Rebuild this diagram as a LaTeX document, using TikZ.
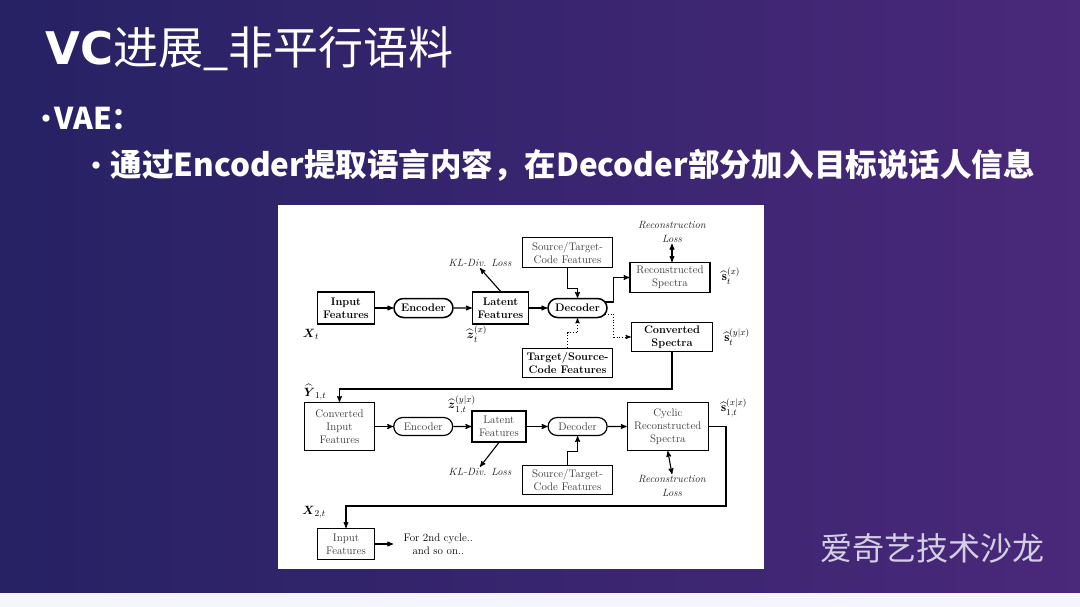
\documentclass[tikz,border=0pt]{standalone}
\usepackage{fontspec}
\usepackage{amsmath}
\usepackage{amssymb}
\usetikzlibrary{shapes}
\usetikzlibrary{arrows}
\usetikzlibrary{positioning}
\newfontfamily\cjk{Noto Sans CJK SC}
\newfontfamily\heavy{DejaVu Sans}
\definecolor{slideL}{RGB}{38,34,100}
\definecolor{slideR}{RGB}{74,40,122}
\definecolor{logogray}{RGB}{212,208,226}
\definecolor{txtgray}{RGB}{55,55,55}
\tikzset{
	diag_node/.style = {
		align=center,
		inner sep=1pt,
		text centered,
		font=\fontsize{11}{13}\selectfont
	},
	box_b/.style = {
		diag_node,
		rectangle,
		draw=black,
		line width=1.5pt,
		font=\fontsize{11}{13}\selectfont\bfseries
	},
	box_r/.style = {
		diag_node,
		rectangle,
		draw=black,
		text=txtgray,
		line width=1.2pt
	},
	pill_b/.style = {
		box_b,
		rounded rectangle,
		minimum width=61pt,
		minimum height=19pt
	},
	pill_r/.style = {
		box_r,
		rounded rectangle,
		minimum width=61pt,
		minimum height=18pt
	},
	txt_loss/.style = {
		diag_node,
		font=\fontsize{10.5}{13.5}\selectfont\itshape,
		text=black!85
	},
	lbl_math/.style = {
		inner sep=0pt,
		font=\fontsize{13}{15}\selectfont
	},
	slide_txt/.style = {
		anchor=base west,
		inner sep=0pt,
		text=white
	},
	slide_dot/.style = {
		inner sep=0pt,
		text=white,
		font=\cjk\fontsize{34}{36}\selectfont
	}
}
\begin{document}
\begin{tikzpicture}[x=1pt,y=-1pt,->,>=stealth',line width=1.1pt]
\useasboundingbox (0,0) rectangle (1080,607);
\fill[color=white!96!blue] (0,0) rectangle (1080,607);
\shade[left color=slideL, right color=slideR] (0,0) rectangle (1080,592);
\node[slide_txt, font=\cjk\fontsize{45}{52}\selectfont] (title) at (45,65) {{\heavy\bfseries VC}进展\_非平行语料};
\node[slide_dot] (bul1) at (47,123) {•};
\node[slide_txt, font=\cjk\fontsize{30}{36}\selectfont\bfseries] (vae) at (54,130) {VAE：};
\node[slide_dot] (bul2) at (96,170) {•};
\node[slide_txt, font=\cjk\fontsize{31.5}{38}\selectfont\bfseries] (point) at (110,177) {通过Encoder提取语言内容，在Decoder部分加入目标说话人信息};
\node[text=logogray, inner sep=0pt, font=\cjk\fontsize{32}{38}\selectfont] (logo) at (932,548) {爱奇艺技术沙龙};
\fill[white] (278,205) rectangle (764,569);
% first pass
\node[box_b, minimum width=57pt, minimum height=32pt] (in1) at (346,308) {Input\\Features};
\node[pill_b, right=18pt of in1] (enc1) {Encoder};
\node[box_b, minimum width=56pt, minimum height=32pt, right=18pt of enc1] (lat1) {Latent\\Features};
\node[pill_b, right=18pt of lat1] (dec1) {Decoder};
\node[box_r, minimum width=90pt, minimum height=30pt] (src1) at (567.5,252.5) {Source/Target-\\Code Features};
\node[box_r, minimum width=80pt, minimum height=30pt] (rec1) at (670,277.5) {Reconstructed\\Spectra};
\node[box_b, minimum width=81pt, minimum height=29pt] (cnv1) at (672,337) {Converted\\Spectra};
\node[box_b, minimum width=90pt, minimum height=29pt] (tgt1) at (567.5,363) {Target/Source-\\Code Features};
\node[txt_loss] (kl1) at (480,263) {KL-Div. Loss};
\node[txt_loss] (rl1) at (672,232) {Reconstruction\\Loss};
\node[lbl_math] (xt1) at (311,334) {$\boldsymbol{X}_t$};
\node[lbl_math] (zt1) at (477,334) {$\widehat{\boldsymbol{z}}_t^{(x)}$};
\node[lbl_math] (st1) at (731,276) {$\widehat{\mathbf{s}}_t^{(x)}$};
\node[lbl_math] (st2) at (737,337) {$\widehat{\mathbf{s}}_t^{(y|x)}$};
\coordinate (loop1) at (672,389);
\draw (in1) -- (enc1);
\draw (enc1) -- (lat1);
\draw (lat1) -- (dec1);
\draw (src1.south) -- ++(0,20) -| (dec1.north);
\draw ([xshift=-3pt,yshift=6pt]dec1.east) -- ++(9,0) |- (rec1.west);
\draw[dotted, line width=0.9pt] ([xshift=-3pt,yshift=-6pt]dec1.east) -- ++(9,0) |- (cnv1.west);
\draw[dotted, line width=0.9pt] (tgt1.north) -- ++(0,-15) -| (dec1.south);
\draw[<->] (rl1.south) -- (rl1.south |- rec1.north);
\draw (lat1.north) -- (kl1.south);
% second pass
\node[box_r, minimum width=70pt, minimum height=48pt] (cin2) at (339.5,426.5) {Converted\\Input\\Features};
\node[pill_r, right=18pt of cin2] (enc2) {Encoder};
\node[box_r, minimum width=54pt, minimum height=31pt, right=18pt of enc2] (lat2) {Latent\\Features};
\node[pill_r, right=21pt of lat2] (dec2) {Decoder};
\node[box_r, minimum width=81pt, minimum height=48pt, right=19pt of dec2] (cyc2) {Cyclic\\Reconstructed\\Spectra};
\node[box_r, minimum width=90pt, minimum height=29pt] (src2) at (567.5,480) {Source/Target-\\Code Features};
\node[txt_loss] (kl2) at (480,472) {KL-Div. Loss};
\node[txt_loss] (rl2) at (672,486) {Reconstruction\\Loss};
\node[lbl_math] (yt2) at (315,392) {$\widehat{\boldsymbol{Y}}_{1,t}$};
\node[lbl_math] (zt2) at (462,405) {$\widehat{\boldsymbol{z}}_{1,t}^{(y|x)}$};
\node[lbl_math] (st3) at (734,408) {$\widehat{\mathbf{s}}_{1,t}^{(x|x)}$};
\coordinate (loop2) at (726,506);
\draw (cnv1.south) -- (loop1) -| (cin2.north);
\draw (cin2) -- (enc2);
\draw (enc2) -- (lat2);
\draw (lat2) -- (dec2);
\draw (dec2) -- (cyc2);
\draw (src2.north) -- ++(0,-13) -| (dec2.south);
\draw[<->] (cyc2.south) -- (rl2.north);
\draw (lat2.south) -- (kl2.north);
% next cycle
\node[box_r, minimum width=57pt, minimum height=31pt] (in3) at (346,544) {Input\\Features};
\node[diag_node, inner sep=10pt, right=18pt of in3] (nxt3) {For 2nd cycle..\\and so on..};
\node[lbl_math] (xt3) at (314,512) {$\boldsymbol{X}_{2,t}$};
\draw (cyc2.east) -| (loop2) -| (in3.north);
\draw (in3) -- (nxt3);
\end{tikzpicture}
\end{document}
